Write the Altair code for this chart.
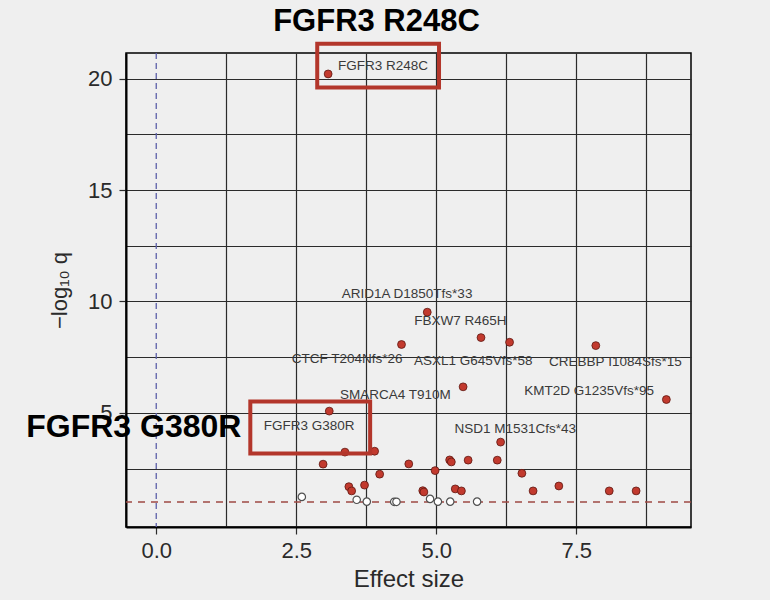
import altair as alt
import pandas as pd

# ---------------- data ----------------
effect = [3.07, 4.84, 5.80, 6.31, 4.38, 7.85, 5.48, 9.11, 3.09, 6.15,
          3.37, 3.90, 2.98, 4.51, 5.24, 5.27, 5.57, 6.09, 4.98, 6.53,
          3.99, 3.44, 3.49, 3.72, 4.76, 4.78, 5.34, 5.45, 6.73, 7.19,
          8.09, 8.57,
          2.60, 3.58, 3.76, 4.25, 4.29, 4.89, 5.03, 5.25, 5.73]
neglogq = [20.21, 9.52, 8.38, 8.17, 8.07, 8.02, 6.17, 5.60, 5.08, 3.69,
           3.24, 3.28, 2.70, 2.71, 2.89, 2.80, 2.88, 2.88, 2.41, 2.29,
           2.25, 1.69, 1.50, 1.76, 1.51, 1.45, 1.59, 1.50, 1.50, 1.72,
           1.50, 1.50,
           1.23, 1.10, 1.02, 1.01, 1.01, 1.14, 1.02, 1.02, 1.02]
significant = [True] * 32 + [False] * 9

label_text = ["FGFR3 R248C", "ARID1A D1850Tfs*33", "FBXW7 R465H", "CTCF T204Nfs*26",
              "ASXL1 G645Vfs*58", "CREBBP I1084Sfs*15", "KMT2D G1235Vfs*95",
              "SMARCA4 T910M", "FGFR3 G380R", "NSD1 M1531Cfs*43"]
label_x = [4.05, 4.48, 5.43, 3.41, 5.66, 8.20, 7.73, 4.27, 2.73, 6.41]
label_y = [20.55, 10.35, 9.14, 7.43, 7.34, 7.28, 6.00, 5.81, 4.42, 4.30]

box_x = [2.875, 1.68]
box_x2 = [5.05, 3.82]
box_y = [19.6, 3.18]
box_y2 = [21.57, 5.51]

callout_text = ["FGFR3 G380R"]
callout_x = [-0.40]
callout_y = [3.91]

threshold = [1.0]
zero_line = [0.0]

x_domain = [-0.54, 9.55]
y_domain = [-0.12, 21.15]
x_gridvals = [0, 1.25, 2.5, 3.75, 5, 6.25, 7.5, 8.75]
y_gridvals = [2.5, 5, 7.5, 10, 12.5, 15, 17.5, 20]

# ---------------- styling ----------------
BG = "#efefef"
GRID = "#2b2b2b"
RED = "#c23a2e"
BOX_RED = "#b3362b"
FONT = "Liberation Sans"

pts = pd.DataFrame({"x": effect, "y": neglogq, "sig": significant})
labels = pd.DataFrame({"text": label_text, "x": label_x, "y": label_y})
boxes = pd.DataFrame({"x": box_x, "x2": box_x2, "y": box_y, "y2": box_y2})
callout = pd.DataFrame({"text": callout_text, "x": callout_x, "y": callout_y})

xs = alt.Scale(domain=x_domain, nice=False, zero=False)
ys = alt.Scale(domain=y_domain, nice=False, zero=False)

x_axis = alt.Axis(
    title="Effect size", values=x_gridvals, format=".1f",
    labelExpr="datum.value % 2.5 === 0 ? datum.label : ''",
    grid=True,
    gridColor={"condition": {"test": "datum.value === 0", "value": "transparent"}, "value": GRID},
    gridWidth=1.2,
    tickColor={"condition": {"test": "datum.value % 2.5 === 0", "value": GRID}, "value": "transparent"},
    tickSize=7, tickWidth=1.2,
    labelFont=FONT, labelFontSize=22, labelColor="#2a2a2a", labelPadding=6,
    titleFont=FONT, titleFontSize=24, titleFontWeight="normal", titleColor="#2a2a2a",
    titlePadding=6, domainColor="black", domainWidth=2,
)
y_axis = alt.Axis(
    title="\u2212log\u2081\u2080 q", values=y_gridvals, format="d",
    labelExpr="datum.value % 5 === 0 ? datum.label : ''",
    grid=True, gridColor=GRID, gridWidth=1.2,
    tickColor={"condition": {"test": "datum.value % 5 === 0", "value": GRID}, "value": "transparent"},
    tickSize=7, tickWidth=1.2,
    labelFont=FONT, labelFontSize=22, labelColor="#2a2a2a", labelPadding=7,
    titleFont=FONT, titleFontSize=22, titleFontWeight="normal", titleColor="#2a2a2a",
    titlePadding=16, domainColor="black", domainWidth=2,
)

X = alt.X("x:Q", scale=xs, axis=x_axis)
Y = alt.Y("y:Q", scale=ys, axis=y_axis)

sig_layer = alt.Chart(pts).transform_filter("datum.sig").mark_circle(
    color=RED, stroke="#5e1812", strokeWidth=0.8, opacity=1, size=62
).encode(x=X, y=Y)

ns_layer = alt.Chart(pts).transform_filter("!datum.sig").mark_circle(
    fill="white", stroke="#505050", strokeWidth=1.2, opacity=1, size=55
).encode(x=X, y=Y)

thr_layer = alt.Chart(pd.DataFrame({"y": threshold})).mark_rule(
    color="#9e4a44", strokeDash=[7, 6], strokeWidth=1.6
).encode(y=Y)

zero_layer = alt.Chart(pd.DataFrame({"x": zero_line})).mark_rule(
    color="#5b5fa8", strokeDash=[6, 4], strokeWidth=1.3
).encode(x=X)

label_layer = alt.Chart(labels).mark_text(
    font=FONT, fontSize=13.5, color="#3a3a3a", align="center", baseline="middle"
).encode(x=X, y=Y, text="text:N")

box_layer = alt.Chart(boxes).mark_rect(
    fillOpacity=0, stroke=BOX_RED, strokeWidth=4
).encode(x=X, x2="x2:Q", y=Y, y2="y2:Q")

callout_layer = alt.Chart(callout).mark_text(
    font=FONT, fontSize=32, fontWeight="bold", color="black", align="center", baseline="alphabetic"
).encode(x=X, y=Y, text="text:N")

chart = alt.layer(
    zero_layer, thr_layer, sig_layer, ns_layer, label_layer, box_layer, callout_layer
).properties(
    width=565, height=474,
    title=alt.TitleParams("FGFR3 R248C", font=FONT, fontSize=31, fontWeight="bold",
                          color="black", anchor="middle", dx=-32, offset=4),
    autosize=alt.AutoSizeParams(type="none"),
    padding={"left": 126, "top": 53, "right": 79, "bottom": 73},
    background=BG,
).configure_view(stroke="black", strokeWidth=1.5, fill=BG)

chart.save("out.html", embed_options={"renderer": "svg", "actions": False})
